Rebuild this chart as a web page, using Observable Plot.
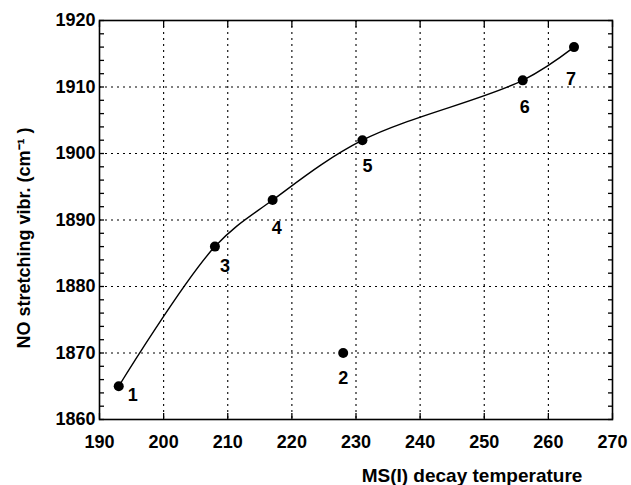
<!DOCTYPE html>
<html>
<head>
<meta charset="utf-8">
<script src="https://cdn.jsdelivr.net/npm/d3@7"></script>
<script src="https://cdn.jsdelivr.net/npm/@observablehq/plot@0.6"></script>
<style>
  body { margin: 0; background: #fff; }
  svg { font-family: "Liberation Sans", Arial, sans-serif; }
</style>
</head>
<body>
<div id="chart"></div>
<script>
// Data
const ids = [1, 2, 3, 4, 5, 6, 7];
const temps = [193, 228, 208, 217, 231, 256, 264];
const freqs = [1865, 1870, 1886, 1893, 1902, 1911, 1916];
const onCurve = [true, false, true, true, true, true, true];
const xTicks = [190, 200, 210, 220, 230, 240, 250, 260, 270];
const yTicks = [1860, 1870, 1880, 1890, 1900, 1910, 1920];
const yMinorTicks = d3.range(1860, 1921, 2);
const xLabel = "MS(I) decay temperature";
const yLabel = "NO stretching vibr. (cm\u207B\u00B9 )";

const points = ids.map((id, i) => ({id, t: temps[i], f: freqs[i], curve: onCurve[i]}));
const curvePts = points.filter(d => d.curve).sort((a, b) => a.t - b.t);

// label offsets (pixels) per point id
const labelOffset = {1: [14, 9], 2: [0, 25], 3: [10, 20], 4: [4, 28], 5: [5, 26], 6: [2, 27], 7: [-3, 32]};

const fontBold = {fontWeight: "bold", fontSize: 18};
const tickStyle = {tickFormat: () => "", label: null, stroke: "#000", strokeWidth: 1.3};

const chart = Plot.plot({
  width: 631,
  height: 485,
  marginLeft: 99,
  marginRight: 19,
  marginTop: 20,
  marginBottom: 66,
  style: {fontFamily: "'Liberation Sans', Arial, sans-serif", color: "#000", background: "#fff"},
  x: {domain: [190, 270]},
  y: {domain: [1860, 1920]},
  marks: [
    // grid
    Plot.gridX(xTicks.slice(1, -1), {stroke: "#000", strokeOpacity: 1, strokeDasharray: "2,4", strokeWidth: 1.1}),
    Plot.gridY(yTicks.slice(1, -1), {stroke: "#000", strokeOpacity: 1, strokeDasharray: "2,4", strokeWidth: 1.1}),
    // frame
    Plot.frame({stroke: "#000", strokeWidth: 1.6}),
    // inward ticks
    Plot.axisY(yMinorTicks, {anchor: "left", tickSize: -5, ...tickStyle}),
    Plot.axisY(yMinorTicks, {anchor: "right", tickSize: -5, ...tickStyle}),
    Plot.axisX(xTicks, {anchor: "bottom", tickSize: -6, ...tickStyle}),
    Plot.axisX(xTicks, {anchor: "top", tickSize: -6, ...tickStyle}),
    // tick labels
    Plot.axisY(yTicks, {anchor: "left", tickSize: 0, tickPadding: 4, label: null, tickFormat: "d", ...fontBold}),
    Plot.axisX(xTicks, {anchor: "bottom", tickSize: 0, tickPadding: 16, label: null, tickFormat: "d", ...fontBold}),
    // axis titles
    Plot.text([xLabel], {frameAnchor: "bottom", dx: 116, dy: 62, text: d => d, fontWeight: "bold", fontSize: 19}),
    Plot.text([yLabel], {frameAnchor: "left", textAnchor: "middle", dx: -75, dy: 18, rotate: -90, text: d => d, fontWeight: "bold", fontSize: 18}),
    // fitted curve
    Plot.line(curvePts, {x: "t", y: "f", curve: "catmull-rom", stroke: "#000", strokeWidth: 1.4}),
    // points
    Plot.dot(points, {x: "t", y: "f", r: 5, fill: "#000", stroke: "none"}),
    // point labels
    ...points.map(p => Plot.text([p], {x: "t", y: "f", text: d => String(d.id), dx: labelOffset[p.id][0], dy: labelOffset[p.id][1], ...fontBold}))
  ]
});
document.getElementById("chart").appendChild(chart);
</script>
</body>
</html>
